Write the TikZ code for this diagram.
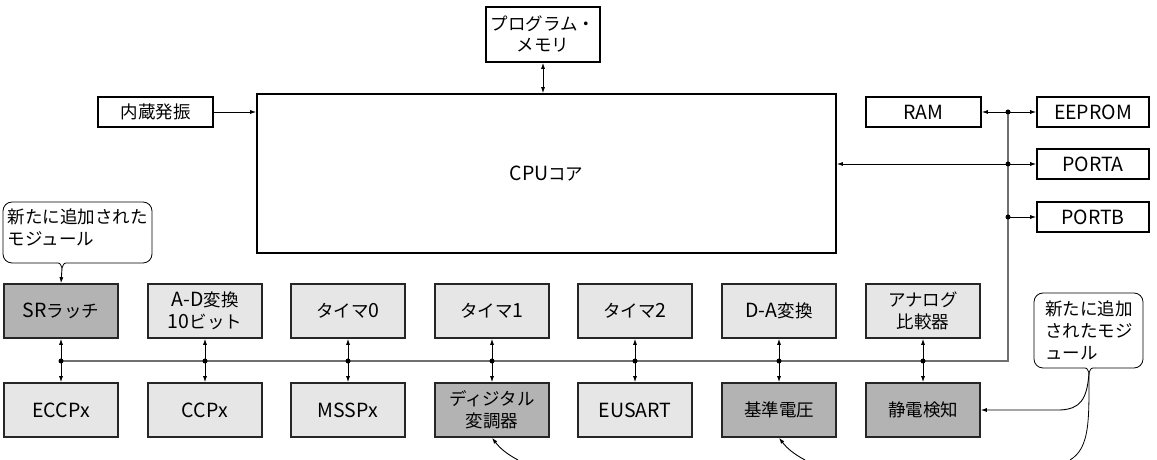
\documentclass[tikz,border=0pt]{standalone}
\usepackage{fontspec}
\setmainfont{Noto Sans CJK JP}
\usetikzlibrary{arrows.meta,calc}
\definecolor{modlight}{HTML}{E6E6E6}
\definecolor{moddark}{HTML}{B3B3B3}
\definecolor{busgray}{HTML}{707070}
\newcommand\latn[1]{{\fontsize{19.5}{22}\selectfont #1}}
\tikzset{
  tip/.tip={Latex[length=6pt,width=4pt]},
  arr/.style={-tip, line width=0.9pt, black},
  dbl/.style={tip-tip, line width=0.9pt, black},
  topbox/.style={draw=black, line width=1.6pt, fill=white, inner sep=0pt,
    minimum height=30pt, align=center, font=\fontsize{17.5}{21}\selectfont},
  modbox/.style={draw=black!85, line width=1.6pt, fill=modlight, inner sep=0pt,
    minimum width=114pt, minimum height=54pt, align=center,
    font=\fontsize{17.5}{22}\selectfont},
  newmod/.style={modbox, fill=moddark},
  bus/.style={draw=busgray, line width=1.2pt},
  jdot/.style={circle, fill=black, inner sep=0pt, minimum size=5pt},
  calltext/.style={inner sep=0pt, align=left, font=\fontsize{17.5}{22}\selectfont},
  callline/.style={draw=black, line width=0.8pt},
}
\begin{document}
\begin{tikzpicture}[x=1pt,y=1pt]
\useasboundingbox (0,0) rectangle (1157,460);
% top blocks
\node[topbox, minimum width=114pt, minimum height=55pt] (pm) at (543,425.5) {プログラム・\\メモリ};
\node[topbox, minimum width=579pt, minimum height=159pt] (cpu) at (546.5,286.5) {\latn{CPU}コア};
\node[topbox, minimum width=115pt] (osc) at (155.5,348) {内蔵発振};
\node[topbox, minimum width=115pt] (ram) at (923.5,348) {\latn{RAM}};
\node[topbox, minimum width=112pt] (eep) at (1093,348) {\latn{EEPROM}};
\node[topbox, minimum width=112pt] (pa) at (1093,296) {\latn{PORTA}};
\node[topbox, minimum width=112pt] (pb) at (1093,243) {\latn{PORTB}};
% modules top row
\node[newmod] (t1) at (61,149) {\latn{SR}ラッチ};
\node[modbox] (t2) at (205,149) {\latn{A-D}変換\\\latn{10}ビット};
\node[modbox] (t3) at (348,149) {タイマ\latn{0}};
\node[modbox] (t4) at (492,149) {タイマ\latn{1}};
\node[modbox] (t5) at (635,149) {タイマ\latn{2}};
\node[modbox] (t6) at (779,149) {\latn{D-A}変換};
\node[modbox] (t7) at (923,149) {アナログ\\比較器};
% modules bottom row
\node[modbox] (b1) at (61,50) {\latn{ECCPx}};
\node[modbox] (b2) at (205,50) {\latn{CCPx}};
\node[modbox] (b3) at (348,50) {\latn{MSSPx}};
\node[newmod] (b4) at (492,50) {ディジタル\\変調器};
\node[modbox] (b5) at (635,50) {\latn{EUSART}};
\node[newmod] (b6) at (779,50) {基準電圧};
\node[newmod] (b7) at (923,50) {静電検知};
% bus
\coordinate (busL) at (61,99);
\coordinate (busR) at (1008,99);
\coordinate (jt) at (1008,348);
\coordinate (ja) at (1008,296);
\coordinate (jb) at (1008,243);
\draw[bus] (busL) -- (busR) -- (jt);
% top connections
\draw[dbl] (pm.south) -- (pm.south |- cpu.north);
\draw[arr] (osc.east) -- (osc.east -| cpu.west);
\draw[arr] (jt) -- (ram.east);
\draw[arr] (jt) -- (eep.west);
\draw[dbl] (cpu.east |- pa.west) -- (pa.west);
\draw[arr] (jb) -- (pb.west);
\node[jdot] at (jt) {};
\node[jdot] at (ja) {};
\node[jdot] at (jb) {};
% module connections
\foreach \i in {1,...,7}{
  \draw[dbl] (t\i.south) -- (b\i.north);
  \node[jdot] at (t\i.south |- busL) {};
}
% callout 1
\node[calltext] (c1) at (78,232.5) {新たに追加された\\モジュール};
\coordinate (c1tl) at (56,197);
\coordinate (c1tr) at (68,197);
\coordinate (c1tip) at (62,192);
\draw[callline, rounded corners=9pt] (c1tl) -- (3,197) -- (3,258) -- (152,258) -- (152,197) -- (c1tr);
\draw[callline] (c1tl) .. controls (60,197) .. (c1tip) .. controls (64,197) .. (c1tr);
\draw[arr] (c1tip) -- (t1.north);
% callout 2
\node[calltext] (c2) at (1089,130) {新たに追加\\されたモジ\\ュール};
\coordinate (c2tl) at (1083,92);
\coordinate (c2tr) at (1095,92);
\coordinate (c2tip) at (1089,87);
\draw[callline, rounded corners=9pt] (c2tl) -- (1034,92) -- (1034,167) -- (1143,167) -- (1143,92) -- (c2tr);
\draw[callline] (c2tl) .. controls (1087,92) .. (c2tip) .. controls (1091,92) .. (c2tr);
\coordinate (bendA) at (1060,0);
\draw[arr] (c2tip) .. controls (1087,60) and (1080,51) .. (bendA |- b7.east) -- (b7.east);
\coordinate (endB) at (1070,0);
\draw[callline] (c2tip) .. controls (1089,40) and (1090,12) .. (endB);
% leaders from bottom
\coordinate (endD) at (518,0);
\coordinate (endV) at (805,0);
\draw[arr] (endD) to[bend left=12] (b4.south);
\draw[arr] (endV) to[bend left=12] (b6.south);
\end{tikzpicture}
\end{document}
